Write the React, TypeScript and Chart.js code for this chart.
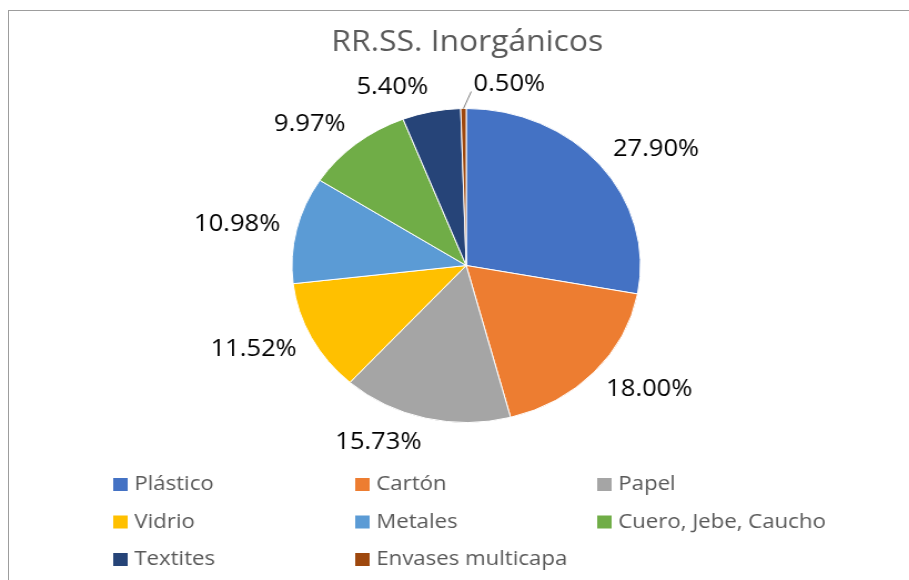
import React, { useEffect, useRef } from "react";
import { Chart, registerables } from "chart.js";

Chart.register(...registerables);

const TITLE = "RR.SS. Inorgánicos";
const categories = [
  "Plástico",
  "Cartón",
  "Papel",
  "Vidrio",
  "Metales",
  "Cuero, Jebe, Caucho",
  "Textites",
  "Envases multicapa",
];
const values = [27.9, 18.0, 15.73, 11.52, 10.98, 9.97, 5.4, 0.5];
const colors = ["#4472C4", "#ED7D31", "#A5A5A5", "#FFC000", "#5B9BD5", "#70AD47", "#264478", "#9E480E"];

const SX = 1.11;
const W = Math.round(909 / SX);
const H = 580;
const FONT = "'Open Sans', 'Noto Sans', sans-serif";

const decorPlugin = {
  id: "decor",
  afterDraw(chart: any) {
    const ctx: CanvasRenderingContext2D = chart.ctx;
    ctx.save();
    // Title
    ctx.fillStyle = "#595959";
    ctx.font = `28.7px ${FONT}`;
    ctx.textAlign = "center";
    ctx.textBaseline = "middle";
    ctx.fillText(TITLE, 421, 43);

    // Data labels
    const meta = chart.getDatasetMeta(0);
    ctx.font = `23px ${FONT}`;
    ctx.fillStyle = "#000000";
    meta.data.forEach((arc: any, i: number) => {
      const p = arc.getProps(["x", "y", "startAngle", "endAngle", "outerRadius"], true);
      const mid = (p.startAngle + p.endAngle) / 2;
      const ux = Math.cos(mid);
      const uy = Math.sin(mid);
      const text = values[i].toFixed(2) + "%";
      const w = ctx.measureText(text).width;
      const h = 20;
      if (values[i] < 1) {
        const sx = p.x + ux * p.outerRadius;
        const sy = p.y + uy * p.outerRadius;
        const ex = sx + 7;
        const ey = sy - 17;
        ctx.strokeStyle = "#7f7f7f";
        ctx.lineWidth = 1;
        ctx.beginPath();
        ctx.moveTo(sx, sy);
        ctx.lineTo(ex, ey);
        ctx.stroke();
        ctx.textAlign = "left";
        ctx.textBaseline = "middle";
        ctx.fillText(text, ex + 2, ey - 7);
      } else {
        const R = p.outerRadius + 15;
        const cx = p.x + ux * R + (Math.sign(ux) * w) / 2;
        const cy = p.y + uy * R + (uy * h) / 2;
        ctx.textAlign = "center";
        ctx.textBaseline = "middle";
        ctx.fillText(text, cx, cy);
      }
    });

    // Legend
    ctx.font = `20px ${FONT}`;
    ctx.textAlign = "left";
    ctx.textBaseline = "middle";
    categories.forEach((c, i) => {
      const col = i % 3;
      const row = Math.floor(i / 3);
      const x = 102 + col * 218;
      const y = 484.5 + row * 37.5;
      ctx.fillStyle = colors[i];
      ctx.fillRect(x, y - 6.5, 13, 13);
      ctx.fillStyle = "#595959";
      ctx.fillText(c, x + 19, y);
    });
    ctx.restore();
  },
};

export default function App() {
  const ref = useRef<HTMLCanvasElement | null>(null);
  useEffect(() => {
    if (!ref.current) return;
    const chart = new Chart(ref.current, {
      type: "pie",
      data: {
        labels: categories,
        datasets: [
          {
            data: values,
            backgroundColor: colors,
            borderColor: "#ffffff",
            borderWidth: 1,
          },
        ],
      },
      options: {
        responsive: false,
        animation: false,
        devicePixelRatio: 1,
        layout: { padding: { top: 108, bottom: 157, left: 150, right: 129 } },
        plugins: {
          legend: { display: false },
          title: { display: false },
          tooltip: { enabled: false },
        },
      },
      plugins: [decorPlugin],
    });
    return () => chart.destroy();
  }, []);

  return (
    <>
      <div
        style={{
          position: "fixed",
          left: 0,
          top: 0,
          width: 909,
          height: 580,
          background: "#ffffff",
        }}
      />
      <div
        style={{
          position: "fixed",
          left: 0,
          top: 0,
          width: W,
          height: H,
          transform: `scaleX(${SX})`,
          transformOrigin: "0 0",
        }}
      >
        <canvas ref={ref} width={W} height={H} style={{ display: "block" }} />
      </div>
      <div
        style={{
          position: "fixed",
          left: 8,
          top: 10,
          width: 1000,
          height: 1000,
          borderLeft: "1px solid #9d9d9d",
          borderTop: "1px solid #9d9d9d",
          pointerEvents: "none",
        }}
      />
    </>
  );
}
